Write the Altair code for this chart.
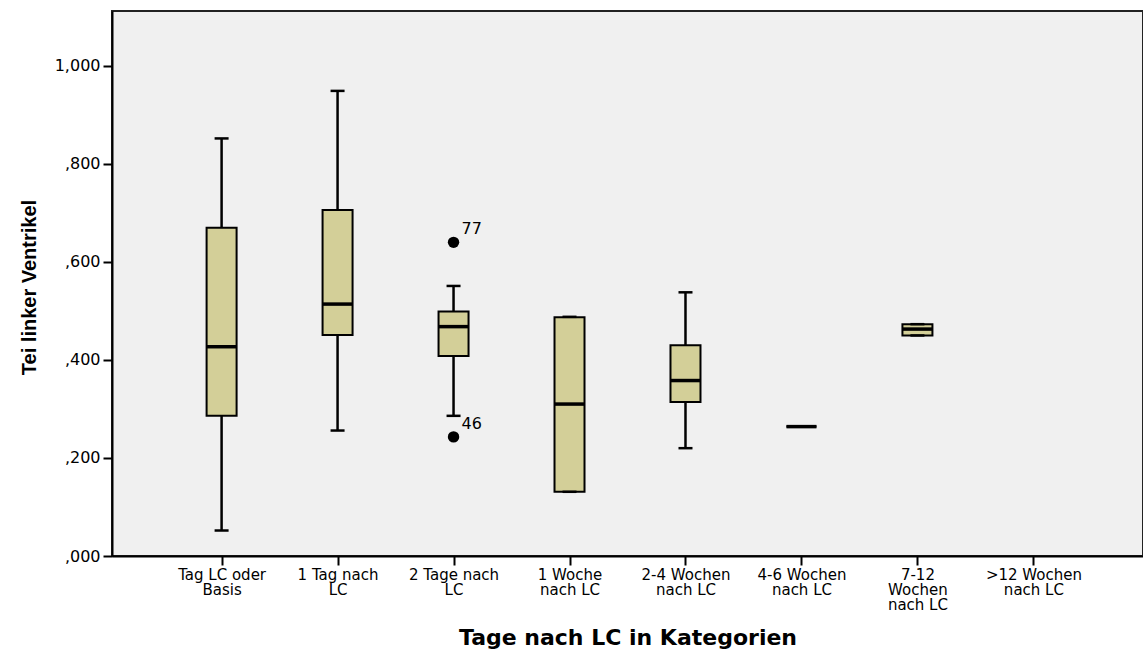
import altair as alt
import pandas as pd

# Categories ("|" marks a line break in the axis label)
categories = [
    "Tag LC oder|Basis",
    "1 Tag nach|LC",
    "2 Tage nach|LC",
    "1 Woche|nach LC",
    "2-4 Wochen|nach LC",
    "4-6 Wochen|nach LC",
    "7-12|Wochen|nach LC",
    ">12 Wochen|nach LC",
]

# Box statistics for the categories that have data (first seven)
box_cats = categories[:7]
whisker_low = [0.052, 0.256, 0.286, 0.131, 0.220, 0.264, 0.450]
q1 = [0.286, 0.451, 0.408, 0.131, 0.314, 0.264, 0.450]
median = [0.427, 0.514, 0.468, 0.310, 0.358, 0.264, 0.463]
q3 = [0.670, 0.706, 0.499, 0.487, 0.430, 0.264, 0.473]
whisker_high = [0.852, 0.949, 0.551, 0.488, 0.538, 0.264, 0.473]

# Outliers
outlier_cats = ["2 Tage nach|LC", "2 Tage nach|LC"]
outlier_values = [0.640, 0.243]
outlier_ids = ["77", "46"]

y_ticks = [0.0, 0.2, 0.4, 0.6, 0.8, 1.0]

boxes = pd.DataFrame({
    "cat": box_cats, "lo": whisker_low, "q1": q1,
    "med": median, "q3": q3, "hi": whisker_high,
})
outliers = pd.DataFrame({"cat": outlier_cats, "v": outlier_values, "id": outlier_ids})

FILL = "#D3CF98"
FONT = "DejaVu Sans"

x_enc = alt.X(
    "cat:N",
    sort=categories,
    scale=alt.Scale(type="point", domain=categories, padding=0.945),
    axis=alt.Axis(
        title="Tage nach LC in Kategorien",
        labelExpr="split(datum.label, '|')",
        labelAngle=0,
        labelFont=FONT,
        labelFontSize=15,
        labelLineHeight=15,
        labelPadding=2,
        labelColor="black",
        labelBaseline="top",
        titleFont=FONT,
        titleFontSize=22,
        titleFontWeight="bold",
        titleColor="black",
        titleY=88,
        titleBaseline="alphabetic",
    ),
)

y_scale = alt.Scale(domain=[0, 1.112], nice=False, zero=True)
y_axis = alt.Axis(
    title="Tei linker Ventrikel",
    values=y_ticks,
    labelExpr="(datum.value >= 1 ? '1' : '') + ',' + substring(format(datum.value, '.3f'), 2)",
    labelFont=FONT,
    labelFontSize=16,
    labelColor="black",
    labelPadding=3,
    titleFont="Liberation Sans",
    titleFontSize=20,
    titleFontWeight="bold",
    titleColor="black",
    titleX=-77,
    titleY=276,
    titleBaseline="alphabetic",
    titleAlign="center",
    titleAngle=270,
)

base = alt.Chart(boxes)

whisker = base.mark_rule(color="black", strokeWidth=2.5).encode(
    x=x_enc,
    y=alt.Y("lo:Q", scale=y_scale, axis=y_axis),
    y2="hi:Q",
)
box = base.mark_bar(size=30, color=FILL, stroke="black", strokeWidth=2, opacity=1).encode(
    x=x_enc, y=alt.Y("q1:Q", scale=y_scale), y2="q3:Q"
)
cap_lo = base.mark_tick(size=14, thickness=2.5, color="black", opacity=1).encode(
    x=x_enc, y=alt.Y("lo:Q", scale=y_scale)
)
cap_hi = base.mark_tick(size=14, thickness=2.5, color="black", opacity=1).encode(
    x=x_enc, y=alt.Y("hi:Q", scale=y_scale)
)
med = base.mark_tick(size=30, thickness=3.5, color="black", opacity=1).encode(
    x=x_enc, y=alt.Y("med:Q", scale=y_scale)
)

ob = alt.Chart(outliers)
pts = ob.mark_point(filled=True, shape="circle", size=130, color="black", opacity=1).encode(
    x=x_enc, y=alt.Y("v:Q", scale=y_scale)
)
lbl = ob.mark_text(
    align="left", baseline="middle", dx=8, dy=-13, font=FONT, fontSize=16, color="black"
).encode(x=x_enc, y=alt.Y("v:Q", scale=y_scale), text="id:N")

chart = (
    alt.layer(whisker, box, cap_lo, cap_hi, med, pts, lbl)
    .properties(
        width=1031,
        height=545,
        padding={"left": 112, "top": 11, "right": 0, "bottom": 95},
        autosize=alt.AutoSizeParams(type="none"),
        background="white",
    )
    .configure_view(fill="#F0F0F0", stroke="#222222", strokeWidth=2)
    .configure_axis(
        grid=False,
        domainColor="black",
        domainWidth=2,
        tickColor="black",
        tickWidth=2,
        tickSize=9,
    )
)

chart.save("out.html", embed_options={"renderer": "svg", "actions": False})
